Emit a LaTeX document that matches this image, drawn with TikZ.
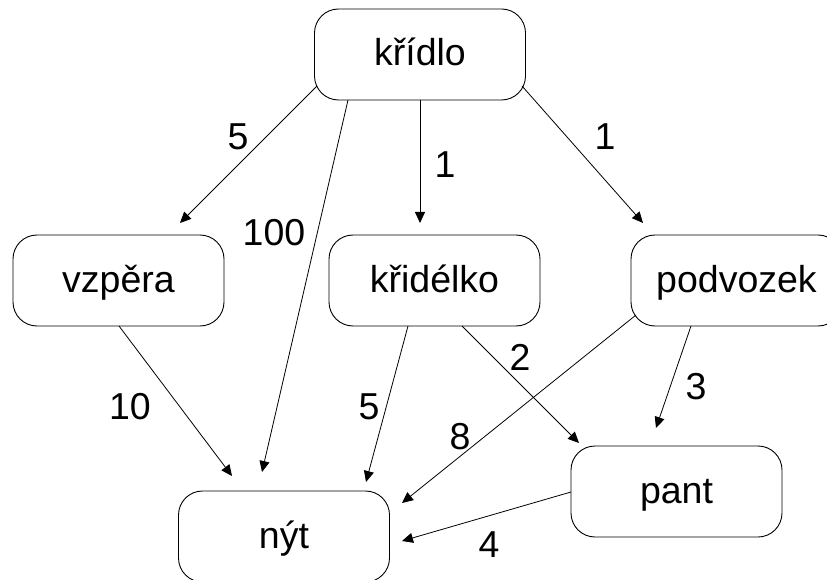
\documentclass[tikz,border=0pt]{standalone}
\usepackage{fontspec}
\setmainfont{Liberation Sans}
\usetikzlibrary{arrows.meta}
\begin{document}
\begin{tikzpicture}[x=1pt,y=-1pt,
  box/.style={draw=black, line width=0.9pt, rounded corners=24pt, minimum width=211pt, minimum height=91pt, inner sep=0pt,
    text height=28pt, text depth=5pt, font=\fontsize{37.5}{40}\selectfont},
  lbl/.style={inner sep=0pt, font=\fontsize{37.5}{40}\selectfont},
  arr/.style={draw=black, line width=0.8pt, -{Triangle[length=11pt,width=10pt]}}]
\useasboundingbox (0,0) rectangle (827,580);
\node[box] (K) at (420,54.5) {křídlo};
\node[box] (V) at (118.5,280.5) {vzpěra};
\node[box] (D) at (434.5,280.5) {křidélko};
\node[box] (P) at (736.5,280.5) {podvozek};
\node[box] (N) at (284,536.5) {nýt};
\node[box] (T) at (676.5,491.5) {pant};
\draw[arr] ([shift={(-103,31.5)}]K.center) -- ([shift={(61.5,-57.5)}]V.center);
\draw[arr] ([shift={(-72,45.5)}]K.center) -- ([shift={(-22,-64.5)}]N.center);
\draw[arr] ([shift={(0,45.5)}]K.center) -- ([shift={(-14.5,-57.5)}]D.center);
\draw[arr] ([shift={(102,31.5)}]K.center) -- ([shift={(-93.5,-57.5)}]P.center);
\draw[arr] ([shift={(0.5,45.5)}]V.center) -- ([shift={(-52,-60.5)}]N.center);
\draw[arr] ([shift={(-26.5,45.5)}]D.center) -- ([shift={(82,-54.5)}]N.center);
\draw[arr] ([shift={(27.5,45.5)}]D.center) -- ([shift={(-97.5,-48.5)}]T.center);
\draw[arr] ([shift={(-100.5,34.5)}]P.center) -- ([shift={(118,-33.5)}]N.center);
\draw[arr] ([shift={(-45.5,45.5)}]P.center) -- ([shift={(-20.5,-63.5)}]T.center);
\draw[arr] ([shift={(-105.5,0.5)}]T.center) -- ([shift={(118,4.5)}]N.center);
\node[lbl] (l1) at (238,137) {5};
\node[lbl] (l2) at (274,233) {100};
\node[lbl] (l3) at (445,165) {1};
\node[lbl] (l4) at (605,137) {1};
\node[lbl] (l5) at (130,407) {10};
\node[lbl] (l6) at (369,407) {5};
\node[lbl] (l7) at (520,357) {2};
\node[lbl] (l8) at (460,437) {8};
\node[lbl] (l9) at (696,387) {3};
\node[lbl] (l10) at (489,545) {4};
\end{tikzpicture}
\end{document}
